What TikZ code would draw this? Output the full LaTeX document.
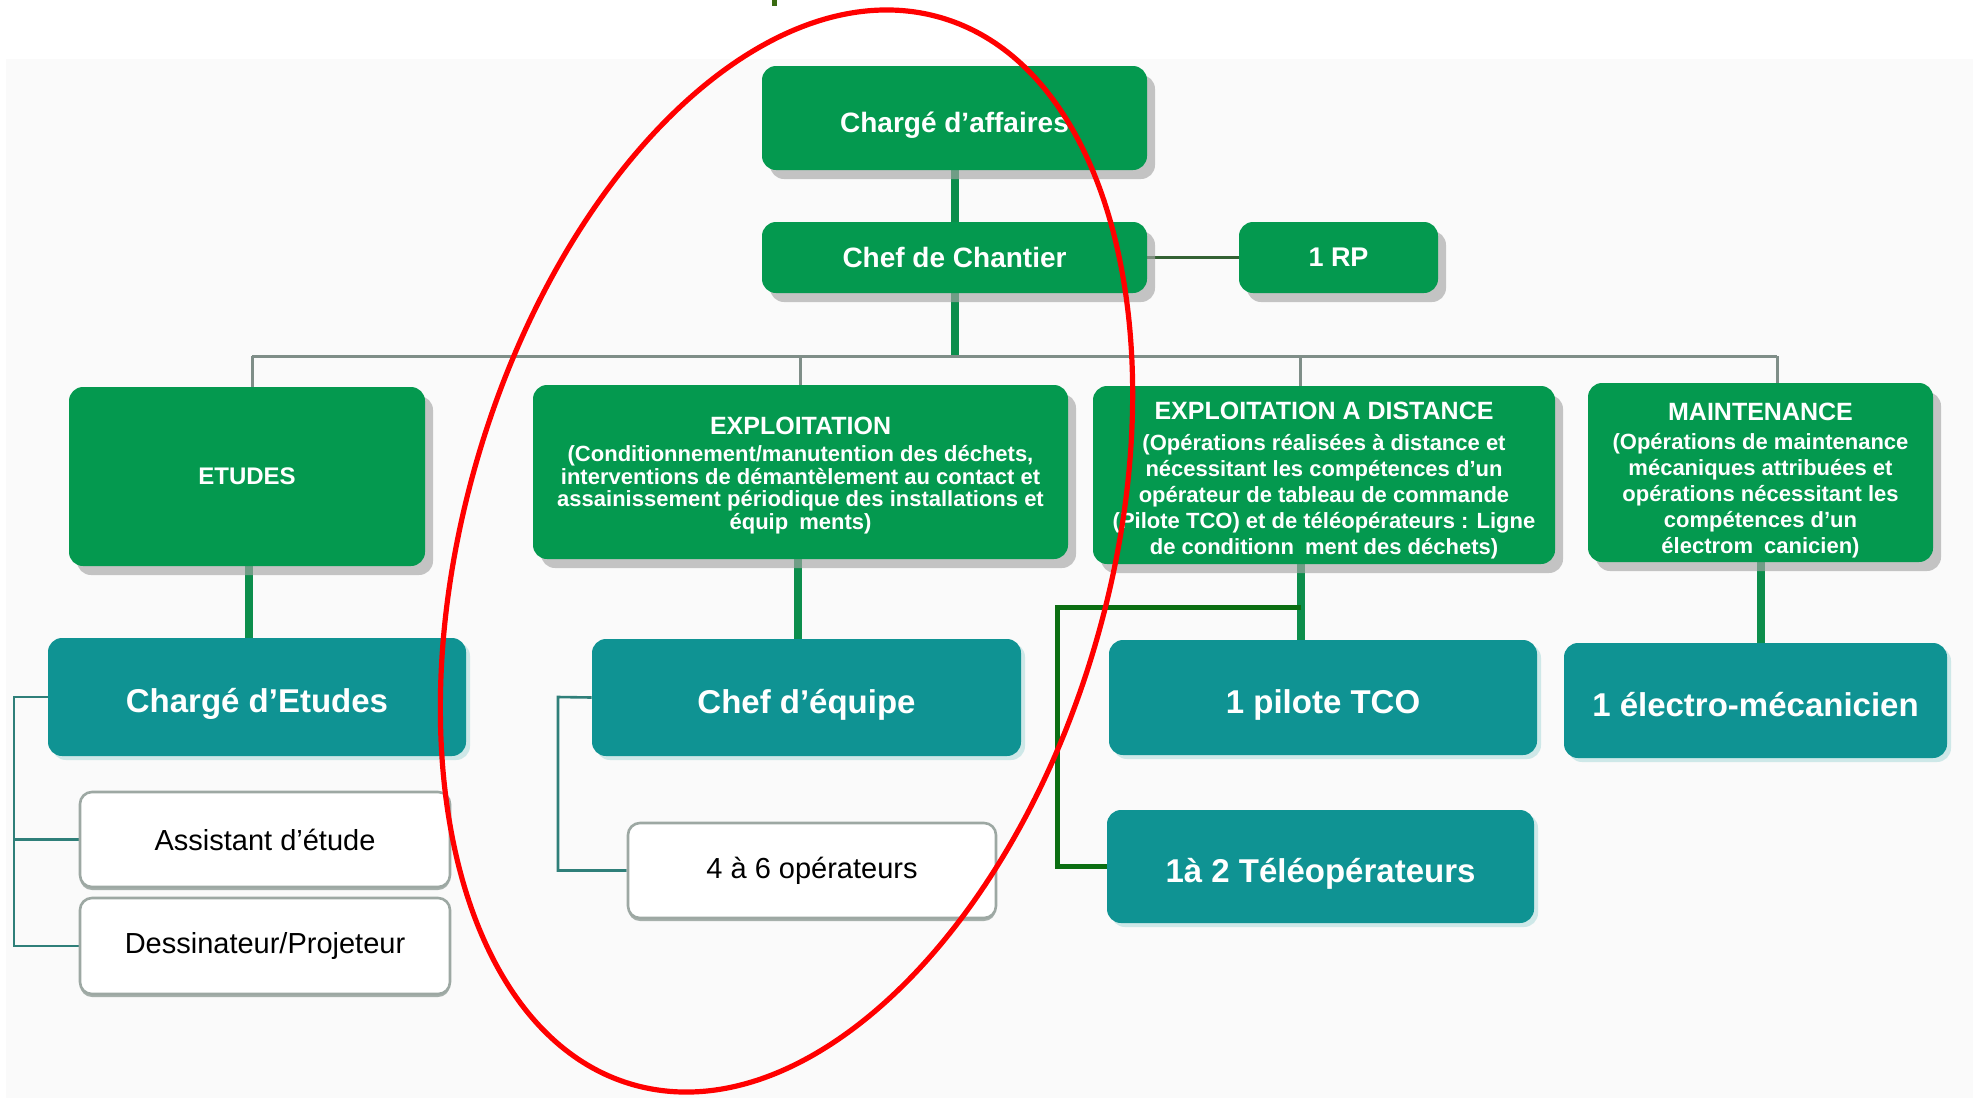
\documentclass[tikz,border=0pt]{standalone}
\usepackage{fontspec}
\setmainfont{Liberation Sans}
\usetikzlibrary{shadows}
\definecolor{boxgreen}{HTML}{04994F}
\definecolor{boxteal}{HTML}{0F9393}
\definecolor{trunkgreen}{HTML}{0C8E4C}
\definecolor{busgrey}{HTML}{7F8E88}
\definecolor{tealline}{HTML}{2F7F79}
\definecolor{darkbranch}{HTML}{0B6E12}
\definecolor{panelgrey}{HTML}{FAFAFA}
\definecolor{framegrey}{HTML}{9DA8A3}
\definecolor{ringred}{HTML}{FF0000}
\definecolor{topmark}{HTML}{3A6B12}
\pgfdeclarelayer{panel}
\pgfdeclarelayer{edges}
\pgfsetlayers{panel,edges,main}
% taller first line: pushes a centred block of lines down by half the extra height
\newcommand{\lowerby}[1]{\rule{0pt}{\dimexpr 9.1pt+2\dimexpr #1\relax\relax}}
\begin{document}
\begin{tikzpicture}[x=0.5pt,y=-0.5pt,
  wh/.style 2 args={minimum width=#1*0.5pt,minimum height=#2*0.5pt},
  greenbox/.style={fill=boxgreen,rounded corners=7pt,text=white,font=\bfseries,
    align=center,inner sep=0pt,
    drop shadow={shadow xshift=4pt,shadow yshift=-4.5pt,fill=black!35,opacity=0.65}},
  tealbox/.style={fill=boxteal,rounded corners=7pt,text=white,
    font=\bfseries\fontsize{16.5}{18}\selectfont,align=center,inner sep=0pt,
    text height=15.5pt,text depth=0pt,
    drop shadow={shadow xshift=2pt,shadow yshift=-2pt,fill=boxteal!25,opacity=0.8}},
  whitebox/.style={fill=white,draw=framegrey,line width=1.3pt,rounded corners=6pt,
    text=black,font=\fontsize{14.5}{16}\selectfont,align=center,inner sep=0pt,
    drop shadow={shadow xshift=0pt,shadow yshift=-1.5pt,fill=framegrey,opacity=0.9}},
  trunk/.style={draw=trunkgreen,line width=4pt},
  busline/.style={draw=busgrey,line width=1.5pt},
  sideline/.style={draw=black!70!green!60!gray,line width=1.3pt},
  bracket/.style={draw=tealline,line width=1.3pt},
  darkbracket/.style={draw=darkbranch,line width=2.5pt},
  ring/.style={draw=ringred,line width=2.6pt}]

\useasboundingbox (0,0) rectangle (1973,1098);

\begin{pgfonlayer}{panel}
  \fill[white] (0,0) rectangle (1973,1098);
  \fill[panelgrey] (6,59) rectangle (1973,1098);
\end{pgfonlayer}

% cut-off title stroke above the chart
\fill[topmark] (772,0) rectangle (777,6);

% top of the hierarchy
\node[greenbox,wh={385}{104},font=\bfseries\fontsize{14}{16}\selectfont,text height=14.4pt,text depth=0pt] (aff) at (954.5,118) {Chargé d'affaires};
\node[greenbox,wh={385}{71},font=\bfseries\fontsize{14}{16}\selectfont] (chef) at (954.5,257.5) {Chef de Chantier};
\node[greenbox,wh={199}{71},font=\bfseries\fontsize{13.5}{16}\selectfont] (rp) at (1338.5,257.5) {1 RP};

% departments
\node[greenbox,wh={356}{179},font=\bfseries\fontsize{12}{14}\selectfont] (etudes) at (247,476.5) {ETUDES};
\node[greenbox,wh={535}{174},font=\bfseries\fontsize{11}{11.3}\selectfont] (expl) at (800.5,472)
  {\lowerby{1.5pt}{\fontsize{12.5}{11.3}\selectfont EXPLOITATION}\\[2.3pt]
   (Conditionnement/manutention des déchets,\\
   interventions de démantèlement au contact et\\
   assainissement périodique des installations et\\
   équip\enspace ments)};
\node[greenbox,wh={462}{178},font=\bfseries\fontsize{11}{13}\selectfont] (dist) at (1324,475)
  {\lowerby{2.5pt}{\fontsize{12.5}{13}\selectfont EXPLOITATION A DISTANCE}\\[2.7pt]
   (Opérations réalisées à distance et\\
   nécessitant les compétences d'un\\
   opérateur de tableau de commande\\
   (Pilote TCO) et de téléopérateurs : Ligne\\
   de conditionn\enspace ment des déchets)};
\node[greenbox,wh={345}{179},font=\bfseries\fontsize{11}{13}\selectfont] (maint) at (1760.5,472.5)
  {\lowerby{4pt}{\fontsize{12.5}{13}\selectfont MAINTENANCE}\\[1.5pt]
   (Opérations de maintenance\\
   mécaniques attribuées et\\
   opérations nécessitant les\\
   compétences d'un\\
   électrom\enspace canicien)};

% posts
\node[tealbox,wh={418}{118}] (ce) at (257,697) {Chargé d'Etudes};
\node[tealbox,wh={429}{117}] (cq) at (806.5,697.5) {Chef d'équipe};
\node[tealbox,wh={428}{115}] (tco) at (1323,697.5) {1 pilote TCO};
\node[tealbox,wh={383}{115}] (elec) at (1755.5,700.5) {1 électro-mécanicien};
\node[tealbox,wh={427}{113}] (tele) at (1320.5,866.5) {1à 2 Téléopérateurs};

\node[whitebox,wh={370}{95}] (asst) at (265,839.5) {Assistant d'étude};
\node[whitebox,wh={370}{96}] (dess) at (265,946) {Dessinateur/Projeteur};
\node[whitebox,wh={368}{95}] (ops) at (812,870.5) {4 à 6 opérateurs};

% connection points
\coordinate (busL) at (252,356);
\coordinate (busR) at (1777,356);
\coordinate (ceb) at (14,697);
\coordinate (cqb) at (558,697);
\coordinate (dj) at (1301,607);
\coordinate (dk) at (1057,607);

\begin{pgfonlayer}{edges}
  \draw[trunk] (aff.south) -- (chef.north);
  \draw[trunk] (chef.south) -- (chef.south |- busL);
  \draw[sideline] (chef.east) -- (rp.west);
  \draw[busline] (busL) -- (busR);
  \draw[busline] (busL) -- (busL |- etudes.north);
  \draw[busline] (expl.north |- busL) -- (expl.north);
  \draw[busline] ([xshift=-12pt]dist.north |- busL) -- ([xshift=-12pt]dist.north);
  \draw[busline] (busR) -- (busR |- maint.north);
  \draw[trunk] ([xshift=1pt]etudes.south) -- ([xshift=1pt]etudes.south |- ce.north);
  \draw[trunk] ([xshift=-1.5pt]expl.south) -- ([xshift=-1.5pt]expl.south |- cq.north);
  \draw[trunk] ([xshift=-11.5pt]dist.south) -- ([xshift=-11.5pt]dist.south |- tco.north);
  \draw[trunk] (maint.south) -- (maint.south |- elec.north);
  \draw[bracket] (ce.west) -- (ceb) |- (dess.west);
  \draw[bracket] (ceb |- asst.west) -- (asst.west);
  \draw[bracket] (cq.west) -- (cqb) |- (ops.west);
  \draw[darkbracket] (dj) -- (dk) |- (tele.west);
\end{pgfonlayer}

% red ring drawn over the chart
\draw[ring,rotate around={-16.1:(786.5,551)}] (786.5,551) ellipse [x radius=322.6, y radius=555.3];

\end{tikzpicture}
\end{document}
